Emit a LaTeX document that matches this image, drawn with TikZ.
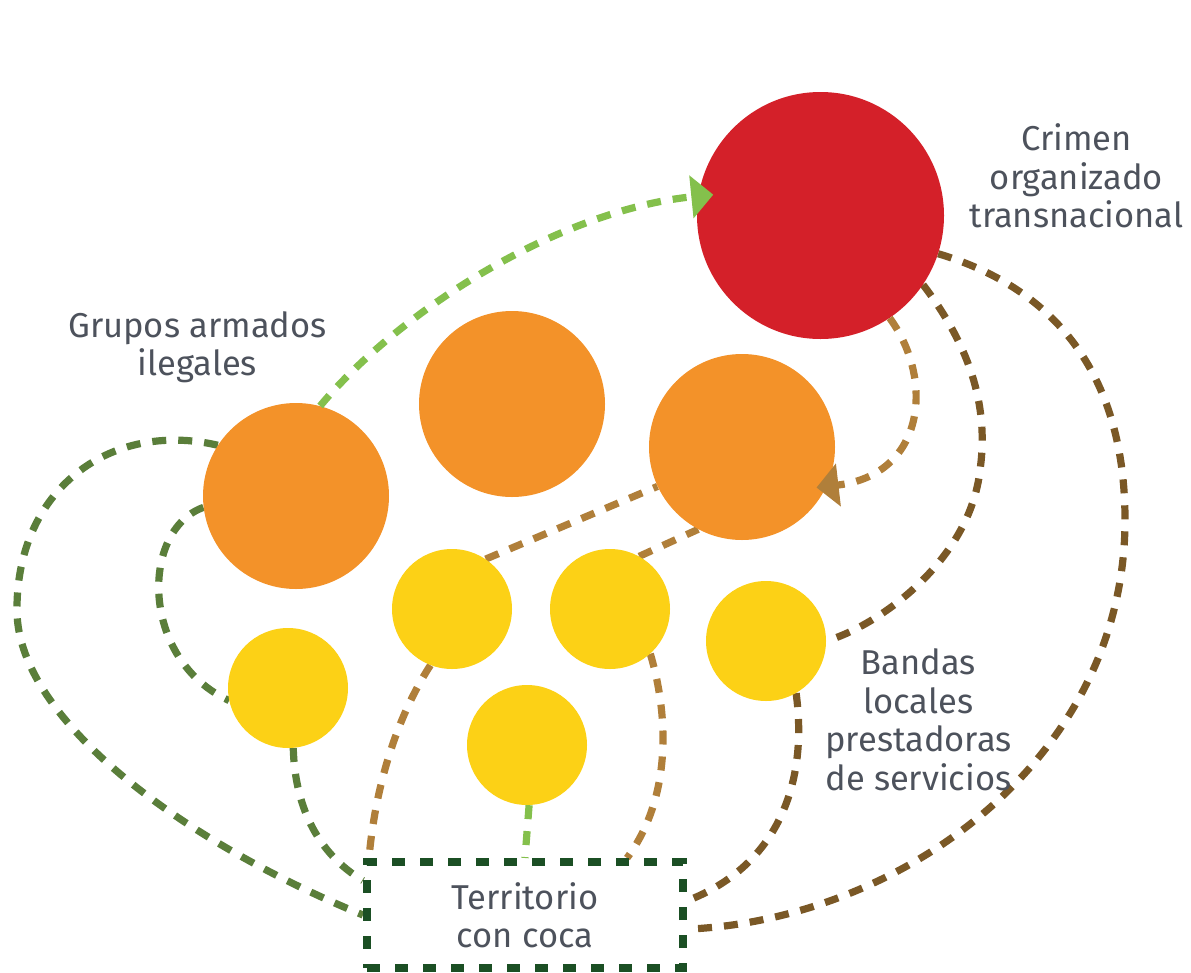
\documentclass[tikz,border=0pt]{standalone}
\usepackage{fontspec}
\setmainfont{Fira Sans}
\usetikzlibrary{arrows.meta,calc,backgrounds}
\definecolor{cred}{HTML}{D42029}
\definecolor{corange}{HTML}{F39229}
\definecolor{cyellow}{HTML}{FCD116}
\definecolor{lgreen}{HTML}{84C04C}
\definecolor{mgreen}{HTML}{5A7E3A}
\definecolor{dgreen}{HTML}{1B4F24}
\definecolor{lbrown}{HTML}{B07F3A}
\definecolor{dbrown}{HTML}{7A5826}
\definecolor{txt}{HTML}{4D525C}
\begin{document}
\begin{tikzpicture}[x=1pt,y=-1pt,
  bigc/.style={circle,inner sep=0pt,minimum size=247pt,fill=cred},
  midc/.style={circle,inner sep=0pt,minimum size=186pt,fill=corange},
  smallc/.style={circle,inner sep=0pt,minimum size=120pt,fill=cyellow},
  lbl/.style={font=\fontsize{34.5}{38.5}\selectfont,text=txt,align=center,inner sep=0pt},
  conn/.style={line width=7.2pt,dash pattern=on 14pt off 12pt},
  arr/.style={-{Triangle[length=22pt,width=42pt]}},
  boxst/.style={draw=dgreen,line width=8pt,dash pattern=on 13pt off 15pt,minimum width=316pt,minimum height=106pt}
  ]
\useasboundingbox (0,0) rectangle (1191,972);
% circles
\node[bigc] (R) at (820.5,215.5) {};
\node[midc] (O1) at (296,496) {};
\node[midc] (O2) at (512,404) {};
\node[midc] (O3) at (742,447) {};
\node[smallc] (YA) at (288,688) {};
\node[smallc] (YB) at (452,609) {};
\node[smallc] (YC) at (610,609) {};
\node[smallc] (YD) at (766,641) {};
\node[smallc] (YE) at (527,745) {};
% territory box
\node[lbl,boxst] (T) at (525,915) {Territorio\\con coca};
% labels
\node[lbl] (LR) at (1076.5,176) {Crimen\\organizado\\transnacional};
\node[lbl] (LG) at (197.5,347) {Grupos armados\\ilegales};
\node[lbl] (LB) at (918.5,720) {Bandas\\locales\\prestadoras\\de servicios};
% connectors under the circles
\begin{pgfonlayer}{background}
\draw[conn,mgreen] (O1.147) .. controls (110,420) and (15,490) .. (17,613)
   .. controls (20,720) and (180,840) .. (T.west);
\draw[conn,mgreen] (O1.187) .. controls (140,530) and (140,660) .. (YA.192);
\draw[conn,mgreen] (YA.275) .. controls (295,810) and (320,855) .. (T.168);
\draw[conn,lgreen] (YE.272) -- (T.north);
\draw[conn,lbrown] (YB.249) .. controls (395,720) and (375,790) .. ([xshift=6pt]T.north west);
\draw[conn,lbrown] (YC.312) .. controls (670,720) and (670,800) .. ([xshift=-60pt]T.north east);
\draw[conn,lbrown] (YB.56) -- (O3.205);
\draw[conn,lbrown] (YC.61) -- (O3.242);
\draw[conn,dbrown] (R.326) .. controls (965,340) and (990,400) .. (980,470)
   .. controls (970,560) and (880,625) .. (YD.east);
\draw[conn,dbrown] (YD.300) .. controls (808,780) and (780,865) .. (T.5);
\draw[conn,dbrown] (R.342) .. controls (1060,290) and (1125,380) .. (1125,520)
   .. controls (1125,760) and (900,920) .. (T.355);
\end{pgfonlayer}
% arrows on top
\draw[conn,lgreen,arr,shorten >=-15pt] (O1.75) .. controls (400,310) and (560,210) .. (R.171);
\draw[conn,lbrown,arr,shorten >=-10pt] (R.304) .. controls (935,380) and (925,475) .. (O3.335);
\end{tikzpicture}
\end{document}
